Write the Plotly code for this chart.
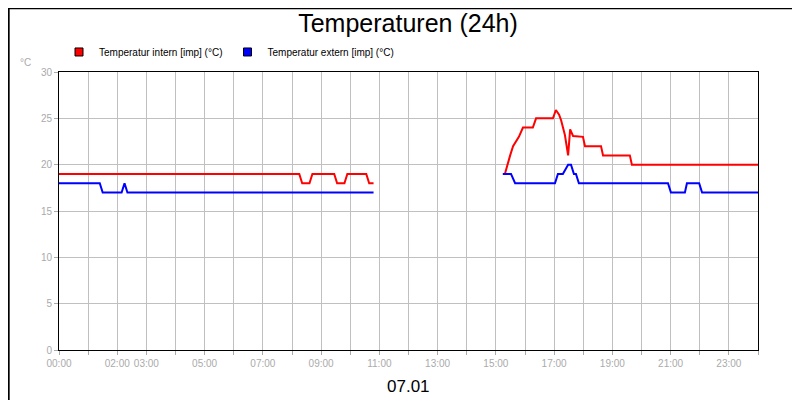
import plotly.graph_objects as go

# Stunden (0-24) und Werte
hours_intern = [0, 8.25, 8.35, 8.6, 8.7, 9.45, 9.55, 9.8, 9.9, 10.55, 10.65, 10.8, None,
                15.24, 15.31, 15.49, 15.59, 15.79, 15.93, 16.27, 16.38, 16.96, 17.06, 17.17,
                17.24, 17.37, 17.48, 17.55, 17.65, 17.99, 18.06, 18.61, 18.68, 19.6, 19.67, 24]
temp_intern = [19, 19, 18, 18, 19, 19, 18, 18, 19, 19, 18, 18, None,
               19, 19, 21, 22, 23, 24, 24, 25, 25, 25.9, 25.4,
               24.8, 23.2, 21, 23.8, 23.1, 23, 22, 22, 21, 21, 20, 20]

hours_extern = [0, 1.4, 1.5, 2.15, 2.25, 2.35, 10.8, None,
                15.24, 15.52, 15.66, 17.03, 17.13, 17.3, 17.48, 17.58, 17.68, 17.75, 17.85,
                20.91, 21.01, 21.49, 21.56, 21.98, 22.08, 24]
temp_extern = [18, 18, 17, 17, 18, 17, 17, None,
               19, 19, 18, 18, 19, 19, 20, 20, 19, 19, 18,
               18, 17, 17, 18, 18, 17, 17]

tick_hours = list(range(25))
tick_labels = {0: "00:00", 2: "02:00", 3: "03:00", 5: "05:00", 7: "07:00", 9: "09:00",
               11: "11:00", 13: "13:00", 15: "15:00", 17: "17:00", 19: "19:00",
               21: "21:00", 23: "23:00"}

fig = go.Figure()
fig.add_trace(go.Scatter(x=hours_intern, y=temp_intern, mode="lines",
                         line=dict(color="#ff0000", width=2), showlegend=False))
fig.add_trace(go.Scatter(x=hours_extern, y=temp_extern, mode="lines",
                         line=dict(color="#0000ff", width=2), showlegend=False))
# Legendeneinträge mit Quadraten
fig.add_trace(go.Scatter(x=[None], y=[None], mode="markers", name="Temperatur intern [imp] (°C)",
                         marker=dict(symbol="square", color="#ff0000", size=8,
                                     line=dict(color="black", width=1))))
fig.add_trace(go.Scatter(x=[None], y=[None], mode="markers", name="Temperatur extern [imp] (°C)",
                         marker=dict(symbol="square", color="#0000ff", size=8,
                                     line=dict(color="black", width=1))))

fig.update_layout(
    width=800, height=400,
    paper_bgcolor="white", plot_bgcolor="white",
    margin=dict(l=51, r=50, t=64, b=58, autoexpand=False),
    font=dict(family="Liberation Sans, Arial", color="black"),
    title=dict(text="Temperaturen (24h)", x=0.5, xanchor="center", y=0.985, yanchor="top",
               font=dict(size=25, color="black")),
    legend=dict(orientation="h", x=0.0, xanchor="left", y=1.072, yanchor="middle",
                font=dict(size=10, color="black"), bgcolor="rgba(0,0,0,0)",
                itemwidth=30, tracegroupgap=0),
    shapes=[dict(type="rect", xref="paper", yref="paper", x0=-0.072, x1=1.0695,
                 y0=-0.207, y1=1.229, line=dict(color="black", width=2))],
    annotations=[
        dict(text="07.01", xref="paper", yref="paper", x=0.5, y=-0.13, yanchor="middle",
             showarrow=False, font=dict(size=17, color="black")),
        dict(text="°C", xref="paper", yref="paper", x=-0.058, y=1.06, xanchor="left",
             showarrow=False, font=dict(size=10, color="#aaaaaa")),
    ],
)
fig.update_xaxes(range=[0, 24], tickvals=tick_hours, tickangle=0, automargin=False,
                 ticktext=[tick_labels.get(h, "") for h in tick_hours],
                 showgrid=True, gridcolor="#c0c0c0", gridwidth=1,
                 showline=True, linecolor="black", linewidth=1, mirror=True,
                 ticks="outside", ticklen=4, tickcolor="#aaaaaa",
                 tickfont=dict(size=10, color="#aaaaaa"), zeroline=False)
fig.update_yaxes(range=[0, 30], dtick=5, automargin=False,
                 showgrid=True, gridcolor="#c0c0c0", gridwidth=1,
                 showline=True, linecolor="black", linewidth=1, mirror=True,
                 ticks="outside", ticklen=4, tickcolor="#aaaaaa",
                 tickfont=dict(size=10, color="#aaaaaa"), zeroline=False)

fig.write_html("out.html")
